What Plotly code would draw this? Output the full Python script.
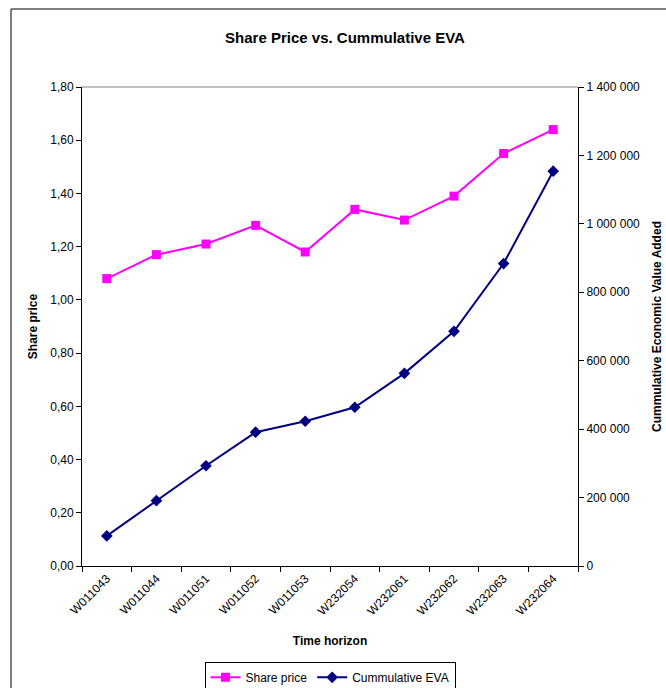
import plotly.graph_objects as go

# Quarterly periods on the time horizon
periods = ["W011043", "W011044", "W011051", "W011052", "W011053",
           "W232054", "W232061", "W232062", "W232063", "W232064"]

# Share price per period
share_price = [1.08, 1.17, 1.21, 1.28, 1.18, 1.34, 1.30, 1.39, 1.55, 1.64]

# Cumulative Economic Value Added per period
cumulative_eva = [88000, 191000, 293000, 391000, 423000,
                  464000, 563000, 686000, 884000, 1154000]

FONT = "Liberation Sans, Arial, sans-serif"

fig = go.Figure()

fig.add_trace(go.Scatter(
    x=periods, y=share_price, name="Share price",
    mode="lines+markers",
    line=dict(color="#FF00FF", width=2),
    marker=dict(symbol="square", size=9, color="#FF00FF"),
    yaxis="y",
))

fig.add_trace(go.Scatter(
    x=periods, y=cumulative_eva, name="Cummulative EVA",
    mode="lines+markers",
    line=dict(color="#000080", width=2),
    marker=dict(symbol="diamond", size=9, color="#000080"),
    yaxis="y2",
))

fig.update_layout(
    width=666, height=688,
    margin=dict(l=82, r=88, t=87, b=122, autoexpand=False),
    paper_bgcolor="white", plot_bgcolor="white",
    separators=", ",
    font=dict(family=FONT, size=12, color="black"),
    title=dict(text="<b>Share Price vs. Cummulative EVA</b>",
               x=345 / 666, xanchor="center", y=1 - 38 / 688, yanchor="middle",
               font=dict(family=FONT, size=15, color="black")),
    xaxis=dict(
        type="category", range=[-0.5, 9.5], automargin=False,
        tickson="boundaries", ticks="outside", ticklen=5, tickcolor="black",
        showline=True, linecolor="black", linewidth=1,
        showgrid=False, zeroline=False,
        tickangle=-45, tickfont=dict(size=12),
        title=dict(text="<b>Time horizon</b>", font=dict(size=12), standoff=19),
    ),
    yaxis=dict(
        range=[0, 1.8], dtick=0.2, tickformat=".2f", automargin=False,
        ticks="outside", ticklen=5, tickcolor="black",
        showline=True, linecolor="black", linewidth=1,
        showgrid=False, zeroline=False, tickfont=dict(size=12),
        title=dict(text="<b>Share price</b>", font=dict(size=12), standoff=10),
    ),
    yaxis2=dict(
        overlaying="y", side="right", automargin=False,
        range=[0, 1400000], dtick=200000, tickformat=",d",
        ticks="outside", ticklen=5, tickcolor="black",
        showline=True, linecolor="black", linewidth=1,
        showgrid=False, zeroline=False, tickfont=dict(size=12),
        title=dict(text="<b>Cummulative Economic Value Added</b>",
                   font=dict(size=12), standoff=13),
    ),
    legend=dict(
        orientation="h", x=0.5, xanchor="center",
        y=-0.2, yanchor="top",
        bordercolor="black", borderwidth=1, bgcolor="white",
        font=dict(size=12),
    ),
    shapes=[
        # top edge of the plot area
        dict(type="line", xref="paper", yref="paper", x0=0, x1=1, y0=1, y1=1,
             line=dict(color="#808080", width=1)),
        # outer chart frame
        dict(type="rect", xref="paper", yref="paper",
             x0=(11 - 82) / 496, x1=1.5, y0=-1, y1=(566 - 9) / 479,
             line=dict(color="black", width=1), fillcolor="rgba(0,0,0,0)"),
    ],
)

fig.write_html("out.html")
